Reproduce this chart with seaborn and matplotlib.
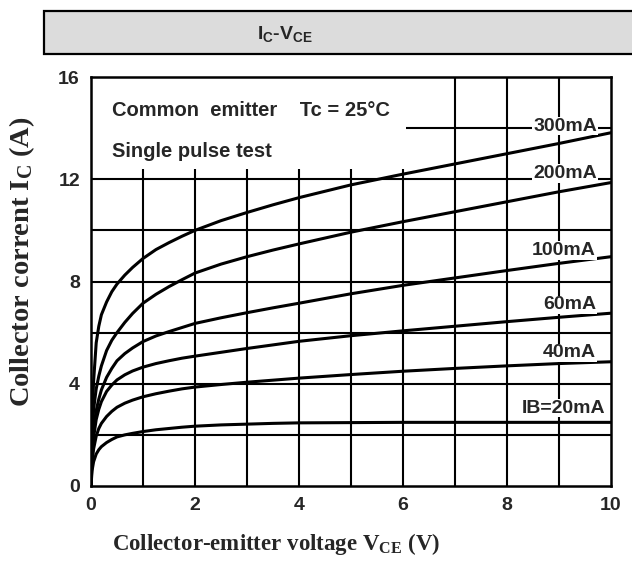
import numpy as np
import pandas as pd
import matplotlib
matplotlib.use('Agg')
import matplotlib.pyplot as plt
import seaborn as sns
from matplotlib.patches import Rectangle

vce = [0, 0.02, 0.05, 0.1, 0.15, 0.2, 0.3, 0.4, 0.5, 0.65, 0.8, 1, 1.25, 1.5, 1.75,
       2, 2.5, 3, 3.5, 4, 5, 6, 7, 8, 9, 10]
ic_300 = [0, 2.5, 4.1, 5.6, 6.25, 6.7, 7.2, 7.6, 7.9, 8.25, 8.55, 8.9, 9.25, 9.52, 9.77,
          10.0, 10.38, 10.7, 11.0, 11.28, 11.78, 12.2, 12.6, 13.0, 13.4, 13.82]
ic_200 = [0, 1.8, 3.0, 3.8, 4.3, 4.7, 5.3, 5.7, 6.0, 6.4, 6.75, 7.15, 7.5, 7.8, 8.07,
          8.33, 8.68, 8.97, 9.23, 9.47, 9.93, 10.34, 10.73, 11.12, 11.51, 11.87]
ic_100 = [0, 1.3, 2.2, 2.95, 3.4, 3.76, 4.25, 4.6, 4.9, 5.18, 5.4, 5.65, 5.87, 6.04, 6.2,
          6.36, 6.58, 6.78, 6.97, 7.15, 7.52, 7.85, 8.14, 8.43, 8.71, 8.97]
ic_60 = [0, 1.1, 1.9, 2.6, 3.0, 3.3, 3.7, 3.95, 4.15, 4.35, 4.5, 4.65, 4.79, 4.9, 5.0,
         5.08, 5.23, 5.38, 5.52, 5.66, 5.88, 6.07, 6.25, 6.43, 6.6, 6.76]
ic_40 = [0, 0.9, 1.45, 1.95, 2.25, 2.45, 2.72, 2.92, 3.08, 3.24, 3.36, 3.49, 3.61, 3.71, 3.8,
         3.87, 3.97, 4.06, 4.14, 4.22, 4.36, 4.49, 4.6, 4.7, 4.79, 4.86]
ic_20 = [0, 0.6, 0.95, 1.25, 1.42, 1.54, 1.7, 1.82, 1.92, 2.0, 2.06, 2.13, 2.2, 2.25, 2.3,
         2.34, 2.39, 2.42, 2.45, 2.47, 2.48, 2.49, 2.49, 2.49, 2.49, 2.49]

ib_labels = ['300mA', '200mA', '100mA', '60mA', '40mA', 'IB=20mA']
label_y = [13.9, 12.04, 9.04, 6.91, 5.03, 2.87]
label_x = [9.73, 9.73, 9.71, 9.71, 9.71, 9.9]

x_ticks = [0, 2, 4, 6, 8, 10]
y_ticks = [0, 4, 8, 12, 16]

curves = [ic_300, ic_200, ic_100, ic_60, ic_40, ic_20]
df = pd.concat([pd.DataFrame({'Vce': vce, 'Ic': c, 'Ib': lab})
                for c, lab in zip(curves, ib_labels)], ignore_index=True)

sns.set_style('white')
plt.rcParams['font.family'] = ['Liberation Sans', 'DejaVu Sans']
plt.rcParams['font.weight'] = 'bold'
plt.rcParams['mathtext.fontset'] = 'custom'
plt.rcParams['mathtext.bf'] = 'Liberation Serif:bold'
plt.rcParams['mathtext.rm'] = 'Liberation Serif:bold'
plt.rcParams['mathtext.sf'] = 'Liberation Sans:bold'

fig = plt.figure(figsize=(6.32, 5.61), dpi=100)
ax = fig.add_axes([91/632, 1-486/561, 520/632, 409/561])

# grid segments like the datasheet (white area behind the notes)
ax.vlines([1, 2, 3, 4, 5, 6], 0, 12.4, color='black', lw=1.5, zorder=1)
ax.vlines([7, 8, 9], 0, 16, color='black', lw=1.5, zorder=1)
ax.hlines([2, 4, 6, 8, 10, 12], 0, 10, color='black', lw=1.5, zorder=1)
ax.hlines([14], 6.05, 10, color='black', lw=1.5, zorder=1)

sns.lineplot(data=df, x='Vce', y='Ic', hue='Ib', palette=['black']*6,
             legend=False, lw=2.2, ax=ax, zorder=3, sort=False)

ax.set_xlim(0, 10)
ax.set_ylim(0, 16)
ax.set_xticks(x_ticks)
ax.set_yticks(y_ticks)
ax.tick_params(length=0, labelsize=14, pad=8)
for lab in ax.get_xticklabels() + ax.get_yticklabels():
    lab.set_fontweight('bold')
for s in ax.spines.values():
    s.set_color('black')
    s.set_linewidth(1.8)
ax.set_xlabel('')
ax.set_ylabel('')

for txt, x, y in zip(ib_labels, label_x, label_y):
    ax.text(x, y, txt, ha='right', va='baseline', fontsize=14, fontweight='bold',
            zorder=4, bbox=dict(fc='white', ec='none', pad=0.5))

ax.text(0.4, 14.48, 'Common  emitter    Tc = 25\u00b0C', ha='left', va='baseline',
        fontsize=14.5, fontweight='bold')
ax.text(0.4, 12.86, 'Single pulse test', ha='left', va='baseline',
        fontsize=14.5, fontweight='bold')

# header box
fig.add_artist(Rectangle((44/632, 1-54/561), 1.0, 43/561, transform=fig.transFigure,
                         fc='#dcdcdc', ec='black', lw=1.6, clip_on=False))
fig.text(285/632, 1-34/561, r'$\mathsf{I_C}$-$\mathsf{V_{CE}}$', ha='center', va='center',
         fontsize=14, fontweight='bold')

fig.text(276/632, 1-544/561, r'Collector-emitter voltage $\mathbf{V_{CE}}$ (V)',
         ha='center', va='center', fontsize=16.5, fontweight='bold', family='Liberation Serif')
fig.text(22/632, 1-262/561, r'Collector corrent $\mathbf{I_C}$ (A)', rotation=90,
         ha='center', va='center', fontsize=20.5, fontweight='bold', family='Liberation Serif')

fig.savefig('out.png', dpi=100)
